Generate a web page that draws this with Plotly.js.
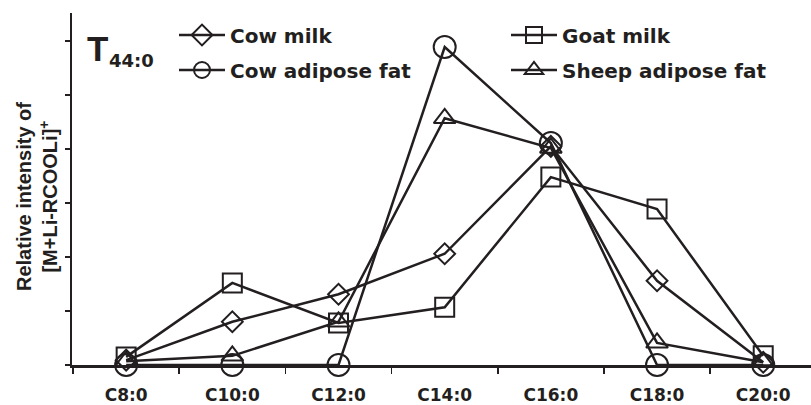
<!DOCTYPE html>
<html>
<head>
<meta charset="utf-8">
<script src="https://cdn.plot.ly/plotly-3.0.1.min.js"></script>
<style>
html,body{margin:0;padding:0;background:#fff;}
#chart{width:811px;height:405px;}
</style>
</head>
<body>
<div id="chart"></div>
<script>
// ---- data ----
const categories = ['C8:0','C10:0','C12:0','C14:0','C16:0','C18:0','C20:0'];
const cowMilk      = [0.09, 0.80, 1.31, 2.06, 4.05, 1.56, 0.05];
const goatMilk     = [0.15, 1.52, 0.78, 1.07, 3.48, 2.89, 0.17];
const cowAdipose   = [0.00, 0.00, 0.00, 5.89, 4.11, 0.00, 0.00];
const sheepAdipose = [0.07, 0.17, 0.80, 4.57, 4.02, 0.41, 0.05];
const seriesNames  = ['Cow milk','Goat milk','Cow adipose fat','Sheep adipose fat'];
const yTickVals    = [0,1,2,3,4,5,6];

const INK = '#231f20';
const legendFont = {family:'DejaVu Sans', size:20, color:INK, weight:'bold'};

function trace(name, y, symbol, size, legend){
  return {
    type:'scatter', mode:'lines+markers', name:name,
    x:categories, y:y, legend:legend, cliponaxis:false,
    line:{color:INK, width:2.5},
    marker:{symbol:symbol, size:size, color:INK, line:{color:INK, width:2}}
  };
}

const data = [
  trace(seriesNames[0], cowMilk, 'diamond-open', 16, 'legend'),
  trace(seriesNames[1], goatMilk, 'square-open', 19, 'legend2'),
  trace(seriesNames[2], cowAdipose, 'circle-open', 22, 'legend3'),
  trace(seriesNames[3], sheepAdipose, 'triangle-up-open', 19, 'legend4')
];

const plotL = 72, plotT = 13, plotB = 365, W = 811, H = 405;
const pw = W - plotL, ph = plotB - plotT;
const px = v => (v - plotL) / pw;
const py = v => (plotB - v) / ph;

function leg(xPix, yPix){
  return {
    orientation:'v', font:legendFont, bgcolor:'rgba(0,0,0,0)',
    itemwidth:46, xanchor:'left', yanchor:'middle', borderwidth:0,
    x:px(xPix), y:py(yPix)
  };
}

const layout = {
  width:W, height:H,
  margin:{l:plotL, r:0, t:plotT, b:H-plotB, pad:0},
  paper_bgcolor:'#fff', plot_bgcolor:'#fff',
  showlegend:true,
  legend:leg(174, 35),
  legend2:leg(506, 35),
  legend3:leg(174, 70),
  legend4:leg(506, 70),
  xaxis:{
    type:'category', range:[-0.51, 6.45],
    showline:true, linecolor:INK, linewidth:2.5,
    showgrid:false, zeroline:false,
    ticks:'outside', tickson:'boundaries', ticklen:6, tickwidth:1.5, tickcolor:INK,
    ticklabelstandoff:13,
    tickfont:{family:'DejaVu Sans', size:17, color:INK, weight:'bold'}
  },
  yaxis:{
    range:[0, 6.52], showline:true, linecolor:INK, linewidth:2.5,
    showgrid:false, zeroline:false,
    tickvals:yTickVals, showticklabels:false,
    ticks:'outside', ticklen:5, tickwidth:1.5, tickcolor:INK
  },
  annotations:[
    {xref:'paper', yref:'paper', x:px(97.5), y:py(48), xanchor:'center', yanchor:'middle',
     text:'T', showarrow:false,
     font:{family:'Liberation Sans', size:35, color:INK, weight:'bold'}},
    {xref:'paper', yref:'paper', x:px(131), y:py(60), xanchor:'center', yanchor:'middle',
     text:'44:0', showarrow:false,
     font:{family:'DejaVu Sans', size:18, color:INK, weight:'bold'}},
    {xref:'paper', yref:'paper', x:px(37), y:py(197), xanchor:'center', yanchor:'middle',
     text:'Relative intensity of<br>[M+Li-RCOOLi]<sup>+</sup>', textangle:-90, showarrow:false,
     font:{family:'Liberation Sans', size:20, color:INK, weight:'bold'}}
  ]
};

Plotly.newPlot('chart', data, layout, {staticPlot:true, displayModeBar:false});
</script>
</body>
</html>
